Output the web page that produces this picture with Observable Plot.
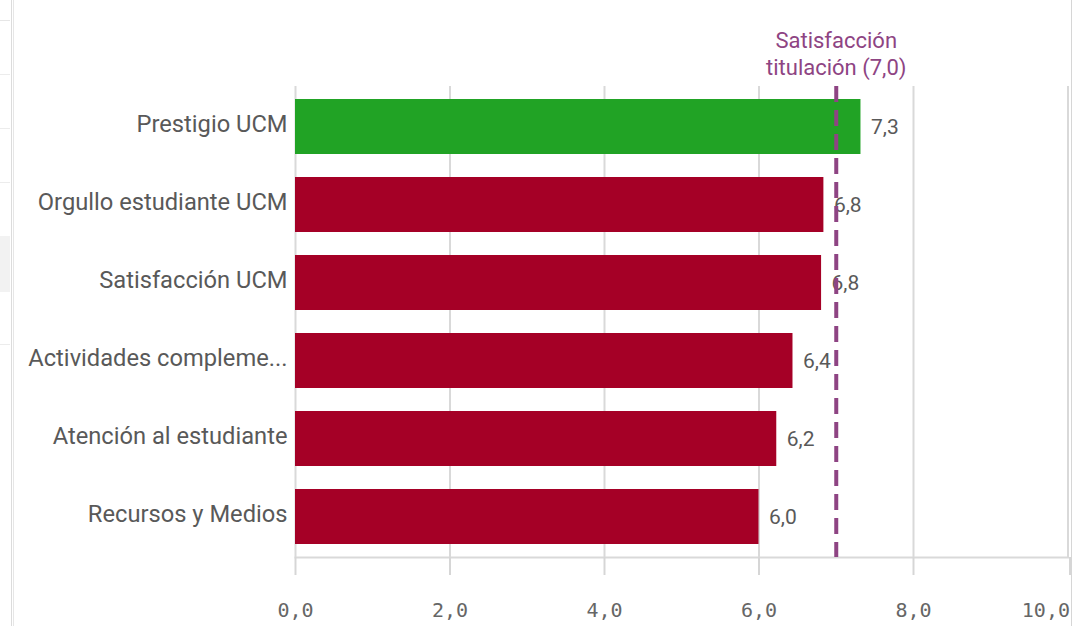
<!DOCTYPE html>
<html><head><meta charset="utf-8">
<script src="https://cdn.jsdelivr.net/npm/d3@7"></script>
<script src="https://cdn.jsdelivr.net/npm/@observablehq/plot@0.6"></script>
<style>
body{margin:0;background:#fff;width:1081px;height:626px;overflow:hidden;position:relative;font-family:Roboto,sans-serif}
#chart{position:absolute;left:0;top:0}
.deco{position:absolute}
</style></head><body>
<div class="deco" style="left:11px;top:0;width:1px;height:626px;background:#dcdcdc"></div>
<div class="deco" style="left:13px;top:0;width:1px;height:626px;background:#e6e6e6"></div>
<div class="deco" style="left:0;top:20px;width:10px;height:1px;background:#e6e6e6"></div>
<div class="deco" style="left:0;top:74px;width:10px;height:1px;background:#ececec"></div>
<div class="deco" style="left:0;top:128px;width:10px;height:1px;background:#ececec"></div>
<div class="deco" style="left:0;top:182px;width:10px;height:1px;background:#ececec"></div>
<div class="deco" style="left:0;top:236px;width:10px;height:56px;background:#f2f2f2"></div>
<div class="deco" style="left:0;top:344px;width:10px;height:1px;background:#ececec"></div>
<div class="deco" style="left:1071px;top:0;width:1px;height:626px;background:#d6d6d6"></div>
<div id="chart"></div>
<script>
const categories = ["Prestigio UCM", "Orgullo estudiante UCM", "Satisfacción UCM", "Actividades complementarias", "Atención al estudiante", "Recursos y Medios"];
const values = [7.32, 6.84, 6.81, 6.44, 6.23, 6.0];
const reference = 7.0;
const referenceLabel = "Satisfacción\ntitulación (7,0)";
const xTicks = [0, 2, 4, 6, 8, 10];
const colorAbove = "#21a325";
const colorBelow = "#a50026";
const refColor = "#8e4483";

const data = categories.map((c, i) => ({category: c, value: values[i]}));
const fmt = v => d3.format(".1f")(v).replace(".", ",");
const trunc = s => s.length > 22 ? s.slice(0, 20) + "..." : s;
const lastTick = xTicks[xTicks.length - 1];
const axisStyle = {tickSize: 18, tickPadding: 27, tickFormat: fmt, fontFamily: "DejaVu Sans Mono", fontSize: 20, fill: "#666", stroke: "#d6d6d6", strokeWidth: 2, label: null};

const chart = Plot.plot({
  width: 1081, height: 626,
  marginLeft: 295, marginRight: 13.5, marginTop: 86, marginBottom: 69,
  style: {fontFamily: "Roboto", background: "transparent"},
  x: {domain: [0, 10], label: null},
  y: {domain: categories, paddingInner: 0.3, paddingOuter: 0.15, label: null},
  color: {type: "identity"},
  marks: [
    Plot.ruleX(xTicks, {stroke: "#d9d9d9", strokeWidth: 2}),
    Plot.frame({anchor: "bottom", stroke: "#d9d9d9", strokeWidth: 2}),
    Plot.barX(data, {x: "value", y: "category", fill: d => d.value > reference ? colorAbove : colorBelow}),
    Plot.text(data, {x: "value", y: "category", text: d => fmt(d.value), textAnchor: "start", dx: 10, fill: "#595959", fontSize: 21}),
    Plot.ruleX([reference], {stroke: refColor, strokeWidth: 4, strokeDasharray: "16,8"}),
    Plot.text([reference], {x: d => d, frameAnchor: "top", text: () => referenceLabel, lineAnchor: "bottom", dy: -12, fill: refColor, fontSize: 22, lineHeight: 1.21}),
    Plot.axisX({...axisStyle, ticks: xTicks.filter(t => t < lastTick)}),
    Plot.axisX({...axisStyle, ticks: [lastTick], textAnchor: "end", dx: 2}),
    Plot.axisY({tickSize: 0, tickPadding: 8, fontSize: 23.7, dy: -3, fill: "#595959", tickFormat: trunc, lineWidth: Infinity, label: null})
  ]
});
document.getElementById("chart").appendChild(chart);
</script>
</body></html>
